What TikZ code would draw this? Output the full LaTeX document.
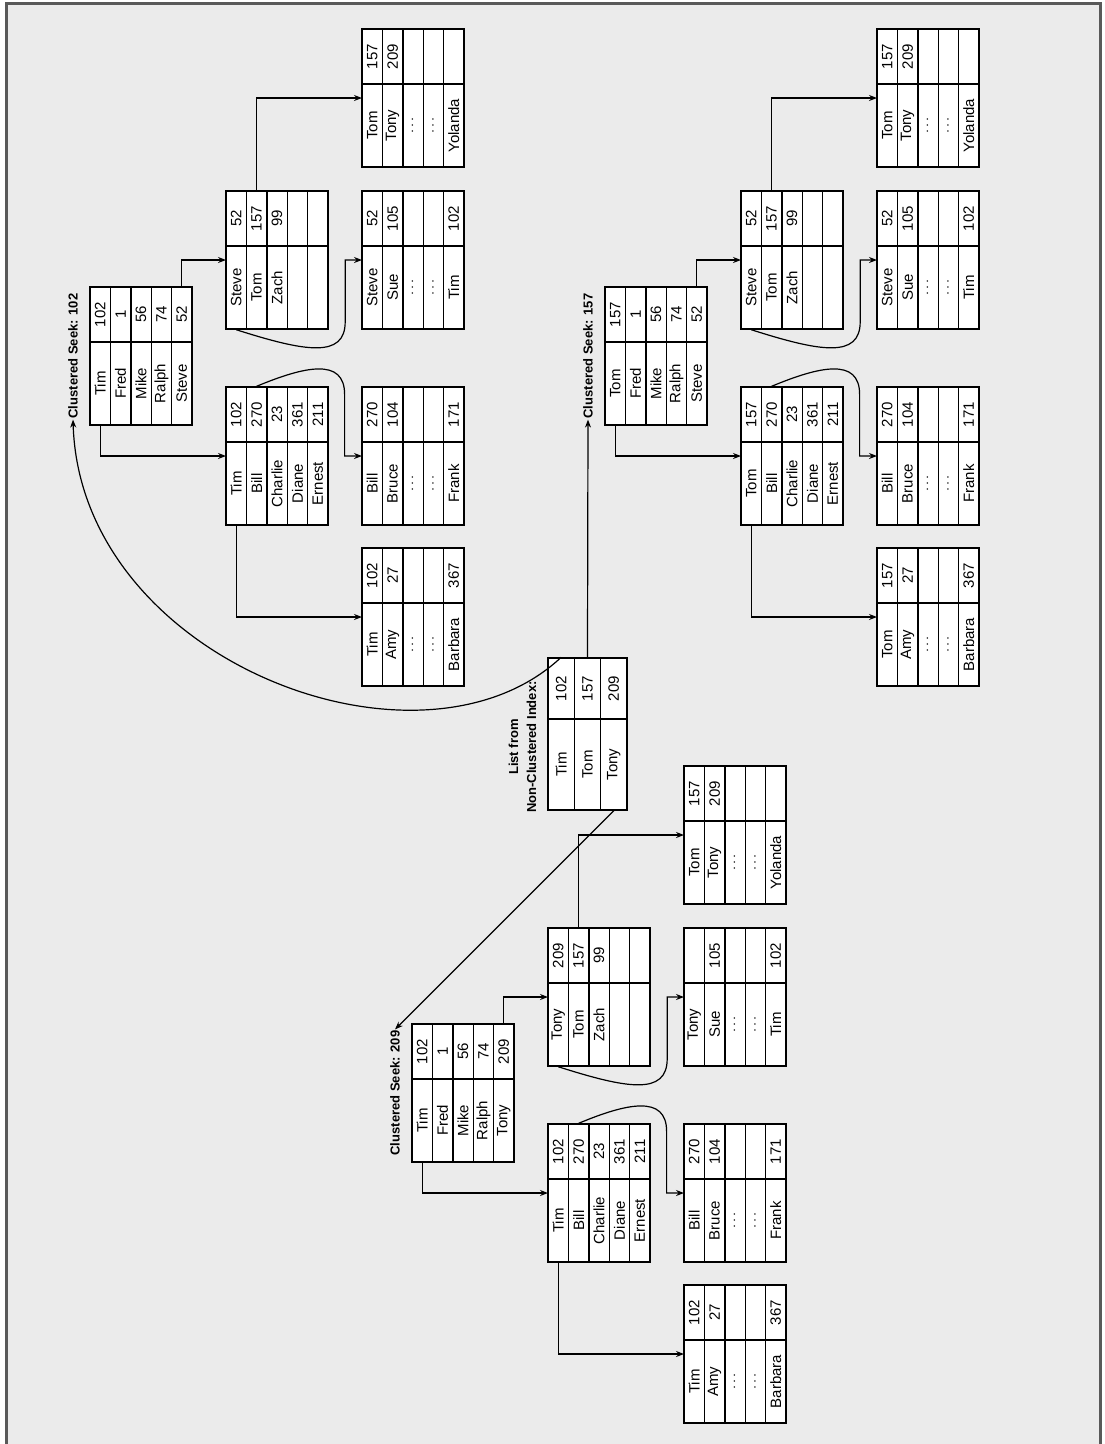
\documentclass[tikz,border=0pt]{standalone}
\usepackage{fontspec}
\setmainfont{Liberation Sans}
\usetikzlibrary{arrows.meta, calc}

\newcommand{\skipdots}{$\cdots$}

\tikzset{
  frame/.style={draw=black!65, line width=3pt, fill=black!8},
  cell/.style={draw, fill=white, rotate=90, inner sep=0pt, line width=1.4pt,
    minimum height=20.4pt, font=\fontsize{15}{17}\selectfont},
  namecell/.style={cell, minimum width=83pt},
  valcell/.style={cell, minimum width=55pt},
  listname/.style={cell, minimum height=26.33pt, minimum width=91pt},
  listval/.style={cell, minimum height=26.33pt, minimum width=61pt},
  seeklabel/.style={rotate=90, inner sep=1pt, font=\fontsize{13}{18}\selectfont\bfseries},
  listlabel/.style={seeklabel, align=center},
  link/.style={draw, line width=1.2pt, -{Stealth[length=8pt, width=6pt]}},
}

% one page of the tree: #1 name, #2/#3 left/top corner on the sheet, #4 rows
\newcommand{\pagetable}[4]{%
  \foreach \nm/\vl [count=\i] in {#4}{
    \node[namecell] (#1-n\i) at ({#2+20.4*\i-10.2},{#3+96.5}) {\nm};
    \node[valcell]  (#1-v\i) at ({#2+20.4*\i-10.2},{#3+27.5}) {\vl};
  }
  \coordinate (#1) at (#2,{#3+69});
}

\begin{document}
\begin{tikzpicture}[x=1pt, y=-1pt]
  % sheet and frame
  \useasboundingbox[fill=white] (0,0) rectangle (1105,1444);
  \draw[frame] (6,3) rectangle (1100,1447);

  % list from the non-clustered index
  \node[listlabel] (listlabel) at (522.5,747) {List from\\Non-Clustered Index:};
  \foreach \nm/\vl [count=\i] in {Tim/102, Tom/157, Tony/209}{
    \node[listname] (list-n\i) at ({548+26.33*\i-13.17},764.5) {\nm};
    \node[listval]  (list-v\i) at ({548+26.33*\i-13.17},688.5) {\vl};
  }

  % seek 102
  \begin{scope}
    \node[seeklabel] (a-seek) at (73,356) {Clustered Seek: 102};
    \pagetable{a-root}{90}{287}{Tim/102, Fred/1, Mike/56, Ralph/74, Steve/52}
    \pagetable{a-ia}{226}{387}{Tim/102, Bill/270, Charlie/23, Diane/361, Ernest/211}
    \pagetable{a-ib}{226}{191}{Steve/52, Tom/157, Zach/99, {}/{}, {}/{}}
    \pagetable{a-la}{362}{548}{Tim/102, Amy/27, \skipdots/{}, \skipdots/{}, Barbara/367}
    \pagetable{a-lb}{362}{387}{Bill/270, Bruce/104, \skipdots/{}, \skipdots/{}, Frank/171}
    \pagetable{a-lc}{362}{191}{Steve/52, Sue/105, \skipdots/{}, \skipdots/{}, Tim/102}
    \pagetable{a-ld}{362}{29}{Tom/157, Tony/209, \skipdots/{}, \skipdots/{}, Yolanda/{}}
  \end{scope}

  % seek 157
  \begin{scope}[shift={(515,0)}]
    \node[seeklabel] (b-seek) at (73,356) {Clustered Seek: 157};
    \pagetable{b-root}{90}{287}{Tom/157, Fred/1, Mike/56, Ralph/74, Steve/52}
    \pagetable{b-ia}{226}{387}{Tom/157, Bill/270, Charlie/23, Diane/361, Ernest/211}
    \pagetable{b-ib}{226}{191}{Steve/52, Tom/157, Zach/99, {}/{}, {}/{}}
    \pagetable{b-la}{362}{548}{Tom/157, Amy/27, \skipdots/{}, \skipdots/{}, Barbara/367}
    \pagetable{b-lb}{362}{387}{Bill/270, Bruce/104, \skipdots/{}, \skipdots/{}, Frank/171}
    \pagetable{b-lc}{362}{191}{Steve/52, Sue/105, \skipdots/{}, \skipdots/{}, Tim/102}
    \pagetable{b-ld}{362}{29}{Tom/157, Tony/209, \skipdots/{}, \skipdots/{}, Yolanda/{}}
  \end{scope}

  % seek 209
  \begin{scope}[shift={(322,737)}]
    \node[seeklabel] (c-seek) at (73,356) {Clustered Seek: 209};
    \pagetable{c-root}{90}{287}{Tim/102, Fred/1, Mike/56, Ralph/74, Tony/209}
    \pagetable{c-ia}{226}{387}{Tim/102, Bill/270, Charlie/23, Diane/361, Ernest/211}
    \pagetable{c-ib}{226}{191}{Tony/209, Tom/157, Zach/99, {}/{}, {}/{}}
    \pagetable{c-la}{362}{548}{Tim/102, Amy/27, \skipdots/{}, \skipdots/{}, Barbara/367}
    \pagetable{c-lb}{362}{387}{Bill/270, Bruce/104, \skipdots/{}, \skipdots/{}, Frank/171}
    \pagetable{c-lc}{362}{191}{Tony/{}, Sue/105, \skipdots/{}, \skipdots/{}, Tim/102}
    \pagetable{c-ld}{362}{29}{Tom/157, Tony/209, \skipdots/{}, \skipdots/{}, Yolanda/{}}
  \end{scope}

  % pointers inside each tree
  \foreach \t in {a,b,c}{
    \draw[link] (\t-root-n1.west) |- (\t-ia);
    \draw[link] (\t-root-v5.east) |- (\t-ib);
    \draw[link] (\t-ia-n1.west) |- (\t-la);
    \draw[link] (\t-ia-v2.east) .. controls +(48,-20) and +(0,-37) .. ++(88,8) |- (\t-lb);
    \draw[link] (\t-ib-n1.west) .. controls +(69,22) and +(0,37) .. ++(109,-8) |- (\t-lc);
    \draw[link] (\t-ib-v2.east) |- (\t-ld);
  }

  % from the list to the seeks
  \draw[link] (list-v1.east) .. controls +(-141,132) and +(7,241) .. (a-seek.west);
  \draw[link] (list-v2.east) -- (b-seek.west);
  \draw[link] (list-n3.west) -- (c-seek.east);
\end{tikzpicture}
\end{document}
